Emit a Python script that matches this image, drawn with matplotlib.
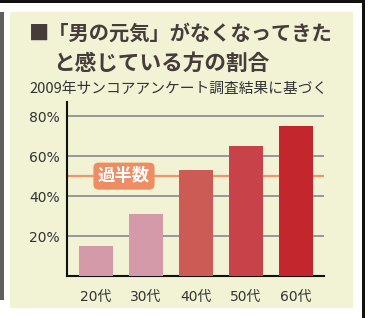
import matplotlib.pyplot as plt
from matplotlib.patches import Rectangle

ages = ['20代', '30代', '40代', '50代', '60代']
rates = [15, 31, 53, 65, 75]
bar_colors = ['#D59AA9', '#D59AA9', '#CC5A55', '#C8424A', '#C4262E']
grid_ticks = [20, 40, 60, 80]
half_line = 50

plt.rcParams['font.family'] = ['Noto Sans CJK JP', 'DejaVu Sans']

W, H = 383, 318
fig = plt.figure(figsize=(W / 100, H / 100), dpi=100)
fig.patch.set_facecolor('white')


def px_rect(x0, y0, x1, y1, color):
    # rectangle in pixel coords, y measured from the top
    fig.patches.append(Rectangle((x0 / W, 1 - y1 / H), (x1 - x0) / W, (y1 - y0) / H,
                                 transform=fig.transFigure, facecolor=color,
                                 edgecolor='none', zorder=-5))


px_rect(10, 12, 353, 308, '#F1F3D4')   # beige panel
px_rect(0, 0, 364, 3, '#111111')       # top rule
px_rect(362, 0, 364.5, 318, '#111111')  # right rule
px_rect(0, 12, 3.5, 300, '#606060')    # left gray bar

fig.text(29 / W, 1 - 33 / H, '■「男の元気」がなくなってきた', fontsize=14.6,
         fontweight='bold', color='#463C3C', ha='left', va='center')
fig.text(53 / W, 1 - 63 / H, 'と感じている方の割合', fontsize=15.6,
         fontweight='bold', color='#463C3C', ha='left', va='center')
fig.text(29 / W, 1 - 88.5 / H, '2009年サンコアアンケート調査結果に基づく', fontsize=10.6,
         color='#333333', ha='left', va='center')

ax_left, ax_right, ax_bottom, ax_top = 67, 324, 276.3, 102
ax = fig.add_axes([ax_left / W, 1 - ax_bottom / H,
                   (ax_right - ax_left) / W, (ax_bottom - ax_top) / H])
ax.set_facecolor('none')

x = list(range(len(ages)))
ax.bar(x, rates, width=0.68, color=bar_colors, zorder=3)
ax.axhline(half_line, color='#F0956A', lw=1.6, zorder=2)
for t in grid_ticks:
    ax.axhline(t, color='#7E7E86', lw=1.1, zorder=1)

ax.text(0.56, half_line, '過半数', fontsize=12.5, fontweight='bold', color='white',
        ha='center', va='center', zorder=4,
        bbox=dict(boxstyle='round,pad=0.26,rounding_size=0.3',
                  facecolor='#EE8D63', edgecolor='none'))

ax.set_xlim(-0.58, 4.56)
ax.set_ylim(0, 87)
ax.set_xticks(x)
ax.set_xticklabels(ages)
ax.set_yticks(grid_ticks)
ax.set_yticklabels([f'{t}%' for t in grid_ticks])
ax.tick_params(length=0, colors='#333333', labelsize=10)
ax.tick_params(axis='x', pad=10)
ax.tick_params(axis='y', pad=5)
for lab in ax.get_xticklabels() + ax.get_yticklabels():
    lab.set_family(['DejaVu Sans', 'Noto Sans CJK JP'])
for s in ['top', 'right']:
    ax.spines[s].set_visible(False)
for s in ['left', 'bottom']:
    ax.spines[s].set_linewidth(1.5)
    ax.spines[s].set_color('#111111')

fig.savefig('out.png', dpi=100)
